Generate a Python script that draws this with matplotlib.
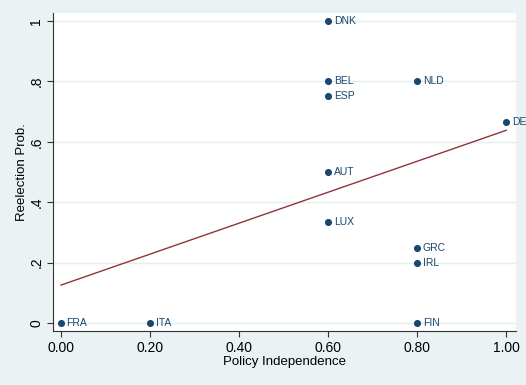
import numpy as np
import matplotlib
matplotlib.use("Agg")
import matplotlib.pyplot as plt

plt.rcParams["font.family"] = ["Liberation Sans", "DejaVu Sans"]

countries = ["FRA", "ITA", "AUT", "LUX", "DNK", "BEL", "ESP", "NLD", "GRC", "IRL", "FIN", "DEU"]
policy_indep = [0.0, 0.2, 0.6, 0.6, 0.6, 0.6, 0.6, 0.8, 0.8, 0.8, 0.8, 1.0]
reelect_prob = [0.0, 0.0, 0.5, 0.3333, 1.0, 0.8, 0.75, 0.8, 0.25, 0.2, 0.0, 0.6667]

x_ticks = [0.0, 0.2, 0.4, 0.6, 0.8, 1.0]
x_labels = ["0.00", "0.20", "0.40", "0.60", "0.80", "1.00"]
y_ticks = [0, 0.2, 0.4, 0.6, 0.8, 1.0]
y_labels = ["0", ".2", ".4", ".6", ".8", "1"]

bg = "#eaf2f3"
navy = "#1a476f"
red = "#90353b"

fig = plt.figure(figsize=(5.26, 3.85), dpi=100, facecolor=bg)
ax = fig.add_axes([53 / 526, 1 - 331 / 385, 463 / 526, 318 / 385])
ax.set_facecolor("white")

ax.scatter(policy_indep, reelect_prob, s=26, color=navy, zorder=3, linewidths=0)
for c, x, y in zip(countries, policy_indep, reelect_prob):
    ax.annotate(c, (x, y), xytext=(4, 0), textcoords="offset points",
                va="center", ha="left", fontsize=7.5, color=navy, annotation_clip=False)

# linear fit
b, a = np.polyfit(policy_indep, reelect_prob, 1)
xs = np.array([0.0, 1.0])
ax.plot(xs, a + b * xs, color=red, lw=1, zorder=2)

ax.set_xlim(-0.018, 1.022)
ax.set_ylim(-0.026, 1.026)
ax.set_xticks(x_ticks)
ax.set_xticklabels(x_labels, fontsize=10)
ax.set_yticks(y_ticks)
ax.set_yticklabels(y_labels, fontsize=10, rotation=90, va="center")
ax.grid(axis="y", color="#e3eeef", lw=1)
ax.set_axisbelow(True)
ax.tick_params(direction="out", length=4, color="#333333", width=0.8, pad=3)

for s in ["top", "right"]:
    ax.spines[s].set_visible(False)
for s in ["left", "bottom"]:
    ax.spines[s].set_color("#333333")
    ax.spines[s].set_linewidth(0.8)

ax.set_xlabel("Policy Independence", fontsize=9.5, labelpad=1)
ax.set_ylabel("Reelection Prob.", fontsize=9.5, labelpad=1)

fig.savefig("out.png", dpi=100, facecolor=bg)
